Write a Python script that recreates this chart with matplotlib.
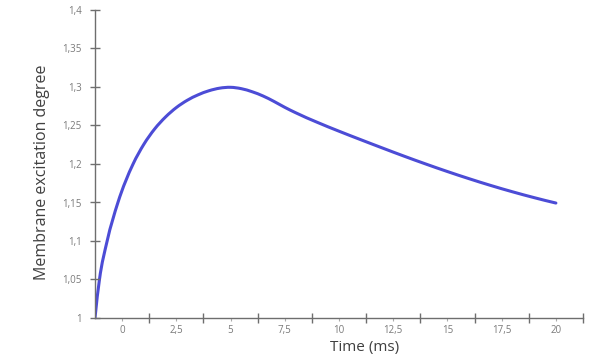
import matplotlib
matplotlib.use("Agg")
import matplotlib.pyplot as plt
from matplotlib.path import Path
from matplotlib.patches import PathPatch
from matplotlib.ticker import FixedLocator, FuncFormatter
import numpy as np

# time (ms) and excitation values
time_ms = [-1.25, -1.044, -0.69, -0.193, 0.506, 1.0, 1.5, 2.0, 2.5, 3.0, 3.5,
           4.0, 4.5, 5.0, 5.5, 6.0, 6.5, 7.0, 7.5, 8.0, 9.0, 10.0, 11.0, 12.0,
           13.0, 14.0, 15.0, 16.0, 17.0, 18.0, 19.0, 20.0]
excitation = [1.000, 1.050, 1.100, 1.150, 1.200, 1.2255, 1.2455, 1.2610,
              1.2733, 1.2827, 1.2898, 1.2951, 1.2985, 1.2996, 1.2978, 1.2938,
              1.2883, 1.2813, 1.2736, 1.2666, 1.2541, 1.2426, 1.2316, 1.2208,
              1.2102, 1.2000, 1.1902, 1.1809, 1.1721, 1.1639, 1.1563, 1.1493]

x_labels = [0, 2.5, 5, 7.5, 10, 12.5, 15, 17.5, 20]
x_bounds = [1.25, 3.75, 6.25, 8.75, 11.25, 13.75, 16.25, 18.75, 21.25]
y_ticks = [1.0, 1.05, 1.1, 1.15, 1.2, 1.25, 1.3, 1.35, 1.4]


def comma(v, _pos=None):
    return f"{v:g}".replace(".", ",")


def smooth_path(xs, ys):
    # smoothed line like Excel's: cubic Bezier pieces through every point,
    # tangents from the neighbouring points (works with uneven spacing)
    x = np.asarray(xs, float)
    y = np.asarray(ys, float)
    h = np.diff(x)
    d = np.diff(y) / h
    m = np.empty_like(y)
    m[1:-1] = (h[1:] * d[:-1] + h[:-1] * d[1:]) / (h[:-1] + h[1:])
    m[0] = 2 * d[0] - m[1]
    m[-1] = 2 * d[-1] - m[-2]
    verts = [(x[0], y[0])]
    codes = [Path.MOVETO]
    for i in range(len(x) - 1):
        verts += [(x[i] + h[i] / 3, y[i] + m[i] * h[i] / 3),
                  (x[i + 1] - h[i] / 3, y[i + 1] - m[i + 1] * h[i] / 3),
                  (x[i + 1], y[i + 1])]
        codes += [Path.CURVE4] * 3
    return Path(verts, codes)


plt.rcParams["font.family"] = ["Open Sans", "DejaVu Sans"]

fig = plt.figure(figsize=(6.03, 3.62), dpi=100)
ax = fig.add_axes([95 / 603, 1 - 318 / 362, (583 - 95) / 603, (318 - 10) / 362])

ax.add_patch(PathPatch(smooth_path(time_ms, excitation), facecolor="none",
                       edgecolor="#4c4cd6", lw=2.2, capstyle="round"))

ax.set_xlim(-1.25, 21.25)
ax.set_ylim(1.0, 1.4)

axis_col = "#6e6e6e"
for side in ["top", "right"]:
    ax.spines[side].set_visible(False)
for side in ["left", "bottom"]:
    ax.spines[side].set_color(axis_col)
    ax.spines[side].set_linewidth(1.0)

ax.set_yticks(y_ticks)
ax.yaxis.set_major_formatter(FuncFormatter(comma))
ax.tick_params(axis="y", direction="inout", length=7, width=1, color=axis_col,
               labelsize=7, labelcolor="#7a7a7a", pad=6)

ax.xaxis.set_major_locator(FixedLocator(x_bounds))
ax.xaxis.set_minor_locator(FixedLocator(x_labels))
ax.xaxis.set_major_formatter(FuncFormatter(lambda v, p: ""))
ax.xaxis.set_minor_formatter(FuncFormatter(comma))
ax.tick_params(axis="x", which="major", direction="inout", length=7, width=1,
               color=axis_col)
ax.tick_params(axis="x", which="minor", direction="out", length=2, width=0.8,
               color="#aaaaaa", labelsize=7, labelcolor="#7a7a7a", pad=3)

fig.text(365 / 603, 1 - 347 / 362, "Time (ms)", ha="center", va="center",
         fontsize=11, color="#404040")
fig.text(42 / 603, 1 - 172 / 362, "Membrane excitation degree", ha="center",
         va="center", rotation=90, fontsize=11.5, color="#404040")

fig.savefig("out.png", dpi=100)
